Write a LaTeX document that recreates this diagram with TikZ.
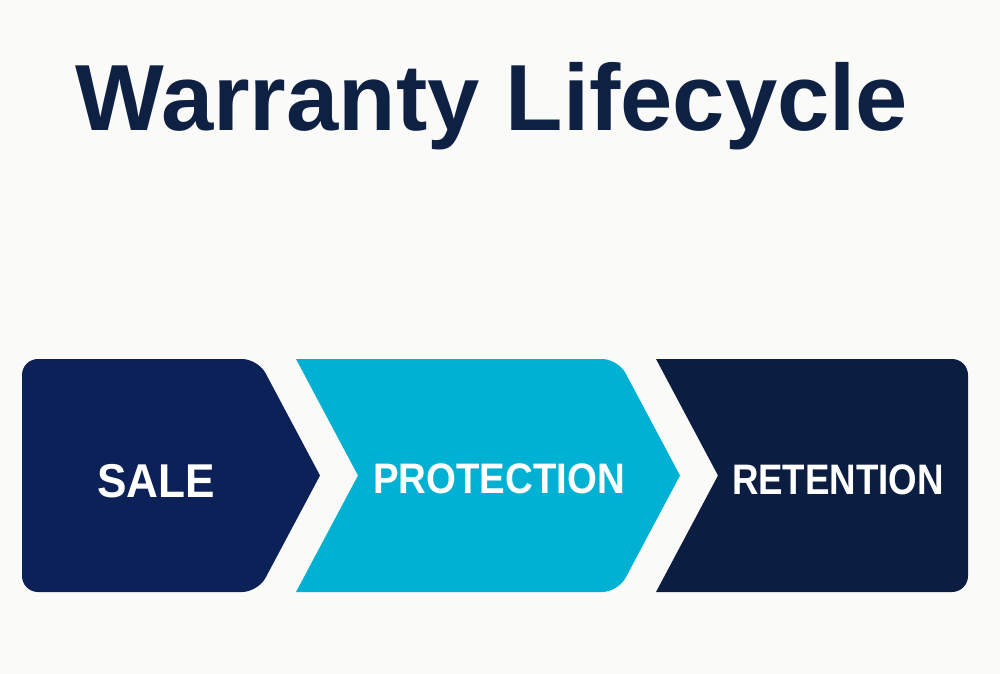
\documentclass[tikz,border=0pt]{standalone}
\usepackage{fontspec}
\setmainfont{Liberation Sans}
\definecolor{bgc}{HTML}{FAFAF9}
\definecolor{titlec}{HTML}{0E2143}
\definecolor{navyA}{HTML}{0B2157}
\definecolor{cyanB}{HTML}{00B1D3}
\definecolor{navyC}{HTML}{0B1E42}
\tikzset{
  lbl/.style={anchor=base, text=white, font=\fontsize{32}{38}\selectfont\bfseries, inner sep=0pt},
  ttl/.style={anchor=base, text=titlec, font=\fontsize{70.5}{80}\selectfont\bfseries, inner sep=0pt}
}
\begin{document}
\begin{tikzpicture}[x=0.75pt,y=-0.75pt]
\fill[bgc] (0,0) rectangle (1000,674);
\useasboundingbox (0,0) rectangle (1000,674);
% title
\node[ttl] (title) at (492,131) {Warranty Lifecycle};
% stage 1
\fill[navyA] (140,359) [rounded corners=12pt] -- (258,359) [sharp corners] -- (320,475.5) [rounded corners=12pt] -- (258,592) -- (22,592) -- (22,359) [sharp corners] -- (140,359) -- cycle;
% stage 2
\fill[cyanB] (296,359) [rounded corners=12pt] -- (618,359) [sharp corners] -- (680,475.5) [rounded corners=12pt] -- (618,592) [sharp corners] -- (296,592) -- (358,475.5) -- cycle;
% stage 3
\fill[navyC] (656,359) [rounded corners=12pt] -- (968,359) -- (968,592) [sharp corners] -- (656,592) -- (718,475.5) -- cycle;
% labels
\node[lbl, font=\fontsize{35.6}{42}\selectfont\bfseries] (sale) at (156,497) {\scalebox{0.93}[1]{SALE}};
\node[lbl] (protection) at (499,493.5) {\scalebox{0.9}[1]{PROTECTION}};
\node[lbl] (retention) at (838,494) {\scalebox{0.86}[1]{RETENTION}};
\end{tikzpicture}
\end{document}
